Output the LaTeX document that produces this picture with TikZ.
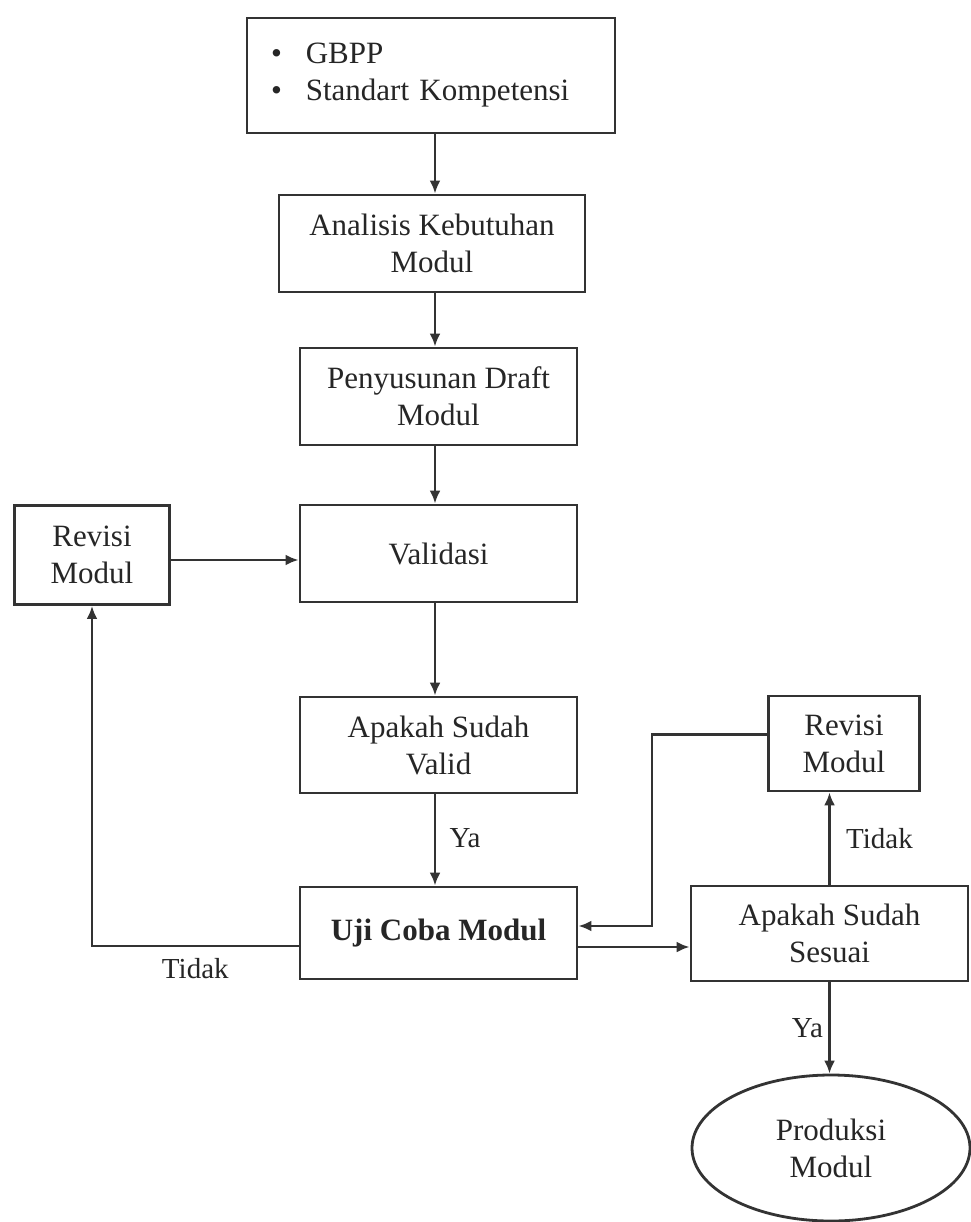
\documentclass[tikz,border=0pt]{standalone}
\usepackage{fontspec}
\setmainfont{Liberation Serif}
\usetikzlibrary{arrows.meta,shapes.geometric,calc}
\begin{document}
\begin{tikzpicture}[x=1pt,y=-1pt,
  every node/.style={font=\fontsize{31}{37}\selectfont, text=black!85},
  box/.style={draw=black!80, line width=2.8pt, rectangle, align=center, inner sep=4pt},
  arr/.style={draw=black!80, line width=2.6pt, -{Latex[length=13pt,width=11pt]}},
  lbl/.style={font=\fontsize{29}{34}\selectfont}]
\useasboundingbox (0,0) rectangle (970,1222);
\fill[white] (0,0) rectangle (970,1222);

\node[box, minimum width=364pt, minimum height=115pt, text width=320pt, align=left, inner xsep=24pt] (top) at (431,75.5)
  {\textbullet\hspace{24pt}GBPP\\\textbullet\hspace{24pt}Standart Kompetensi};
\node[box, minimum width=306pt, minimum height=97pt] (anal) at (432,243.5) {Analisis Kebutuhan\\Modul};
\node[box, minimum width=277pt, minimum height=97pt] (draft) at (438.5,396.5) {Penyusunan Draft\\Modul};
\node[box, minimum width=277pt, minimum height=97pt] (valid) at (438.5,553.5) {Validasi};
\node[box, minimum width=155pt, minimum height=99pt] (revL) at (92,555) {Revisi\\Modul};
\node[box, minimum width=277pt, minimum height=96pt] (apv) at (438.5,745) {Apakah Sudah\\Valid};
\node[box, minimum width=277pt, minimum height=92pt] (uji) at (438.5,933) {\bfseries Uji Coba Modul};
\node[box, minimum width=151pt, minimum height=95pt] (revR) at (844,743.5) {Revisi\\Modul};
\node[box, minimum width=277pt, minimum height=95pt] (ses) at (829.5,933.5) {Apakah Sudah\\Sesuai};
\node[draw=black!80, line width=2.8pt, ellipse, minimum width=278pt, minimum height=146pt, align=center] (prod) at (831,1148) {Produksi\\Modul};

\draw[arr] (top.south -| 435,0) -- (anal.north -| 435,0);
\draw[arr] (anal.south -| 435,0) -- (draft.north -| 435,0);
\draw[arr] (draft.south -| 435,0) -- (valid.north -| 435,0);
\draw[arr] (revL.east |- 0,560) -- (valid.west |- 0,560);
\draw[arr] (valid.south -| 435,0) -- (apv.north -| 435,0);
\draw[arr] (apv.south -| 435,0) -- node[lbl, right=10pt, pos=0.48] (ya1) {Ya} (uji.north -| 435,0);
\draw[arr] ([yshift=-13pt]uji.west) -| node[lbl, pos=0.25, below=8pt] (td1) {Tidak} (revL.south);
\draw[arr] ([yshift=-14pt]uji.east) -- ([yshift=-14pt]uji.east -| ses.west);
\draw[arr] (ses.north) -- node[lbl, right=12pt] (td2) {Tidak} (ses.north |- revR.south);
\draw[arr] ([yshift=9pt]revR.west) -- ++(-115,0) |- ([yshift=7pt]uji.east);
\draw[arr] (ses.south) -- node[lbl, left=2pt] (ya2) {Ya} (ses.south |- prod.north);
\end{tikzpicture}
\end{document}
